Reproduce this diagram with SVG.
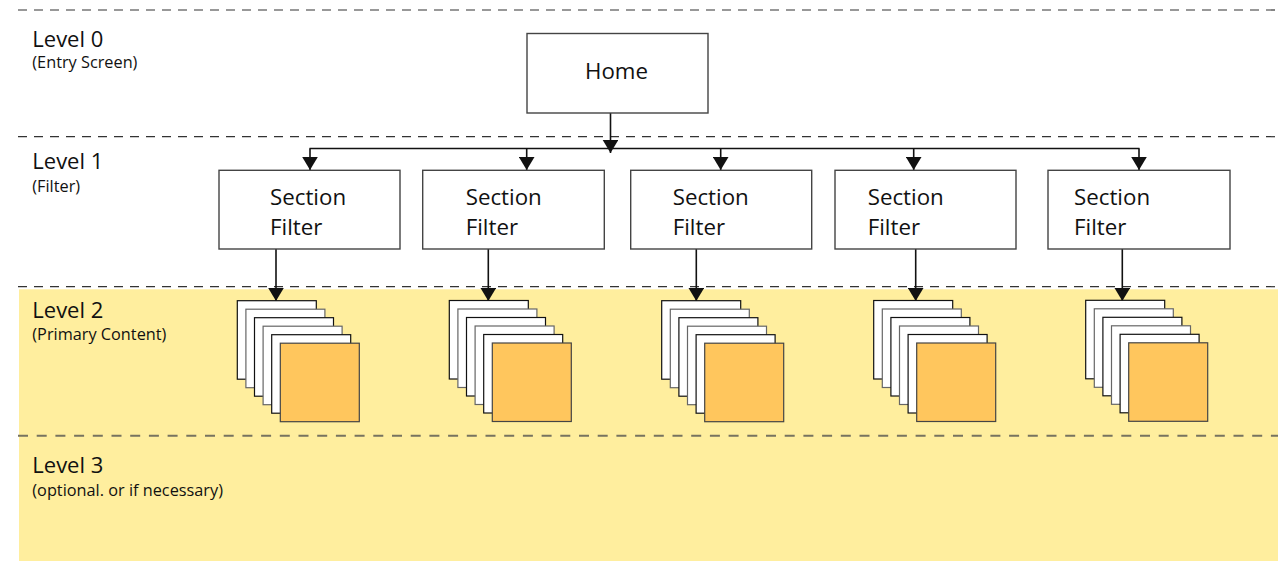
<svg xmlns="http://www.w3.org/2000/svg" width="1278" height="561" viewBox="0 0 1278 561">
<style>
.lvl{font-family:"Open Sans","Noto Sans","Liberation Sans",sans-serif;font-size:22px;fill:#111}
.sub{font-family:"Open Sans","Noto Sans","Liberation Sans",sans-serif;font-size:16.3px;fill:#111}
.lbl{font-family:"Open Sans","Noto Sans","Liberation Sans",sans-serif;font-size:22.3px;fill:#111}
.box{fill:#fff;stroke:#444;stroke-width:1.4}
.dash{stroke:#333;stroke-width:1.2;stroke-dasharray:9 7;fill:none}
.dash2{stroke:#77735f;stroke-width:2;stroke-dasharray:10 8.7;fill:none}
.conn{stroke:#111;stroke-width:1.6;fill:none}
.arr{stroke:#111;stroke-width:1.6;fill:none;marker-end:url(#ah)}
.pg{fill:#fff;stroke:#111;stroke-width:1.2}
.pg2{fill:#fff;stroke:#666;stroke-width:1.2}
.or{fill:#FFC65D;stroke:#444;stroke-width:1.2}
</style>
<defs>
<marker id="ah" markerUnits="userSpaceOnUse" markerWidth="14" markerHeight="16" refX="13" refY="7.8" orient="auto" viewBox="0 0 14 16">
<path d="M0,0 L13,7.8 L0,15.6 z" fill="#111"/>
</marker>
<g id="stack">
<rect class="pg" x="0" y="0" width="79" height="78.5"/>
<rect class="pg2" x="8.6" y="8.5" width="79" height="78.5"/>
<rect class="pg" x="17.2" y="17" width="79" height="78.5"/>
<rect class="pg2" x="25.8" y="25.5" width="79" height="78.5"/>
<rect class="pg" x="34.4" y="34" width="79" height="78.5"/>
<rect class="or" x="43" y="42.5" width="79" height="78.5"/>
</g>
</defs>
<g id="background">
<rect x="19" y="289.3" width="1259" height="272" fill="#FFEE9E"/>
<line class="dash" x1="18" y1="10" x2="1278" y2="10"/>
<line class="dash" x1="18" y1="136.7" x2="1278" y2="136.7"/>
<line class="dash" x1="18" y1="286.7" x2="1278" y2="286.7"/>
<line class="dash2" x1="18" y1="435.7" x2="1278" y2="435.7"/>
</g>
<g id="levels">
<text class="lvl" x="32.3" y="46.7">Level 0</text>
<text class="sub" x="32.3" y="68.3">(Entry Screen)</text>
<text class="lvl" x="32.3" y="169">Level 1</text>
<text class="sub" x="32.3" y="191.5">(Filter)</text>
<text class="lvl" x="32.3" y="318.3">Level 2</text>
<text class="sub" x="32.3" y="340">(Primary Content)</text>
<text class="lvl" x="32.3" y="473.3">Level 3</text>
<text class="sub" x="32.3" y="496">(optional. or if necessary)</text>
</g>
<g id="connectors">
<line class="arr" x1="610.5" y1="113" x2="610.5" y2="153"/>
<line class="conn" x1="309.5" y1="148.5" x2="1139.5" y2="148.5"/>
<line class="arr" x1="310" y1="148.5" x2="310" y2="170"/>
<line class="arr" x1="526.7" y1="148.5" x2="526.7" y2="170"/>
<line class="arr" x1="720.7" y1="148.5" x2="720.7" y2="170"/>
<line class="arr" x1="913.7" y1="148.5" x2="913.7" y2="170"/>
<line class="arr" x1="1139" y1="148.5" x2="1139" y2="170"/>
<line class="arr" x1="276" y1="249" x2="276" y2="301"/>
<line class="arr" x1="488.3" y1="249" x2="488.3" y2="301"/>
<line class="arr" x1="696.3" y1="249" x2="696.3" y2="301"/>
<line class="arr" x1="915.7" y1="249" x2="915.7" y2="301"/>
<line class="arr" x1="1122.3" y1="249" x2="1122.3" y2="301"/>
</g>
<g id="home">
<rect class="box" x="527" y="33.5" width="181" height="79.5"/>
<text class="lbl" x="585" y="79.3">Home</text>
</g>
<g id="filter1">
<rect class="box" x="219" y="170.3" width="181" height="78.7"/>
<text class="lbl"><tspan x="270" y="205">Section</tspan><tspan x="270" y="235">Filter</tspan></text>
</g>
<g id="filter2">
<rect class="box" x="422.7" y="170.3" width="181.6" height="78.7"/>
<text class="lbl"><tspan x="465.7" y="205">Section</tspan><tspan x="465.7" y="235">Filter</tspan></text>
</g>
<g id="filter3">
<rect class="box" x="630.7" y="170.3" width="181" height="78.7"/>
<text class="lbl"><tspan x="672.7" y="205">Section</tspan><tspan x="672.7" y="235">Filter</tspan></text>
</g>
<g id="filter4">
<rect class="box" x="835" y="170.3" width="181" height="78.7"/>
<text class="lbl"><tspan x="867.7" y="205">Section</tspan><tspan x="867.7" y="235">Filter</tspan></text>
</g>
<g id="filter5">
<rect class="box" x="1048" y="170.3" width="182" height="78.7"/>
<text class="lbl"><tspan x="1074" y="205">Section</tspan><tspan x="1074" y="235">Filter</tspan></text>
</g>
<g id="content1"><use href="#stack" x="237.3" y="300.7"/></g>
<g id="content2"><use href="#stack" x="449.3" y="300.5"/></g>
<g id="content3"><use href="#stack" x="661.7" y="300.7"/></g>
<g id="content4"><use href="#stack" x="873.7" y="300.5"/></g>
<g id="content5"><use href="#stack" x="1085.7" y="300.3"/></g>
</svg>
